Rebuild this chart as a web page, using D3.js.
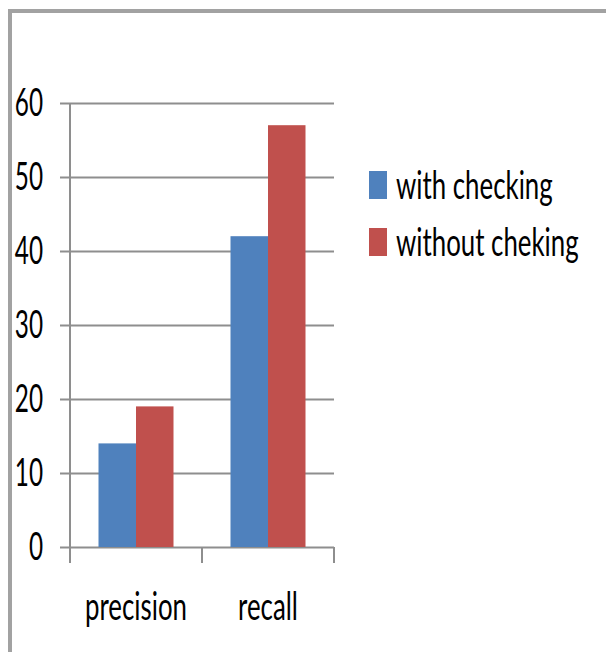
<!DOCTYPE html>
<html>
<head>
<meta charset="utf-8">
<script src="https://cdn.jsdelivr.net/npm/d3@7"></script>
<style>
  html, body { margin: 0; padding: 0; background: #fff; }
  svg { display: block; }
  text { font-family: Lato, "Liberation Sans", sans-serif; fill: #000; }
</style>
</head>
<body>
<svg id="chart" width="606" height="652"></svg>
<script>
// Data
const categories = ["precision", "recall"];
const seriesNames = ["with checking", "without cheking"];
const withChecking = [14, 42];
const withoutChecking = [19, 57];
const yTicks = [0, 10, 20, 30, 40, 50, 60];
const seriesColors = ["#4F81BD", "#C0504D"];

const seriesValues = [withChecking, withoutChecking];
const rows = categories.map((c, i) => ({
  category: c,
  values: seriesNames.map((s, j) => ({ series: s, value: seriesValues[j][i] }))
}));

// Layout
const W = 606, H = 652;
const plotLeft = 70, plotRight = 334, plotTop = 103, plotBottom = 547;
const gridLeft = 60;
const fontSize = 38;
const squeeze = 0.68;      // horizontal text compression
const gridColor = "#8e8e8e";

const svg = d3.select("#chart");

// Outer frame
svg.append("rect")
  .attr("x", 10).attr("y", 11)
  .attr("width", W + 20).attr("height", H + 20)
  .attr("fill", "none")
  .attr("stroke", "#a2a2a2")
  .attr("stroke-width", 4);

// Scales
const y = d3.scaleLinear().domain([0, 60]).range([plotBottom, plotTop]);
const x0 = d3.scaleBand().domain(categories).range([plotLeft, plotRight]).paddingInner(0).paddingOuter(0);
const x1 = d3.scaleBand().domain(seriesNames).range([0, x0.bandwidth()]).paddingInner(0).paddingOuter(0.76);
const color = d3.scaleOrdinal().domain(seriesNames).range(seriesColors);

// Horizontal gridlines + y tick labels
const yAxis = svg.append("g")
  .attr("transform", `translate(${gridLeft},0)`)
  .call(d3.axisLeft(y).tickValues(yTicks).tickSize(-(plotRight - gridLeft)).tickFormat(d3.format("d")));
yAxis.select(".domain").remove();
yAxis.selectAll(".tick line").attr("stroke", gridColor).attr("stroke-width", 2);
yAxis.selectAll(".tick text")
  .attr("x", null)
  .attr("dy", null)
  .attr("text-anchor", "end")
  .attr("transform", `translate(-17,12) scale(${squeeze - 0.04},1)`)
  .style("font-size", fontSize + "px")
  .style("font-family", "Lato, 'Liberation Sans', sans-serif")
  .attr("fill", "#000");

// Vertical axis line
svg.append("line")
  .attr("x1", plotLeft).attr("x2", plotLeft)
  .attr("y1", plotTop).attr("y2", plotBottom + 16)
  .attr("stroke", gridColor).attr("stroke-width", 2);

// Category tick marks at band boundaries
const boundaries = categories.map(c => x0(c)).concat([x0(categories[categories.length - 1]) + x0.bandwidth()]);
svg.append("g").selectAll("line")
  .data(boundaries)
  .join("line")
  .attr("x1", d => d).attr("x2", d => d)
  .attr("y1", plotBottom).attr("y2", plotBottom + 16)
  .attr("stroke", gridColor).attr("stroke-width", 2);

// Bars
const groups = svg.append("g").selectAll("g")
  .data(rows)
  .join("g")
  .attr("transform", d => `translate(${x0(d.category)},0)`);

groups.selectAll("rect")
  .data(d => d.values)
  .join("rect")
  .attr("x", d => x1(d.series))
  .attr("y", d => y(d.value))
  .attr("width", x1.bandwidth())
  .attr("height", d => y(0) - y(d.value))
  .attr("fill", d => color(d.series));

// Category labels
svg.append("g").selectAll("text")
  .data(categories)
  .join("text")
  .attr("text-anchor", "middle")
  .attr("transform", d => `translate(${x0(d) + x0.bandwidth() / 2},${plotBottom + 73}) scale(${squeeze},1)`)
  .style("font-size", fontSize + "px")
  .text(d => d);

// Legend
const legend = svg.append("g").selectAll("g")
  .data(seriesNames)
  .join("g")
  .attr("transform", (d, i) => `translate(369,${199 + i * 57})`);

legend.append("rect")
  .attr("x", 0).attr("y", -28)
  .attr("width", 18).attr("height", 28)
  .attr("fill", d => color(d));

legend.append("text")
  .attr("transform", `translate(27,0) scale(${squeeze},1)`)
  .style("font-size", fontSize + "px")
  .text(d => d);
</script>
</body>
</html>
